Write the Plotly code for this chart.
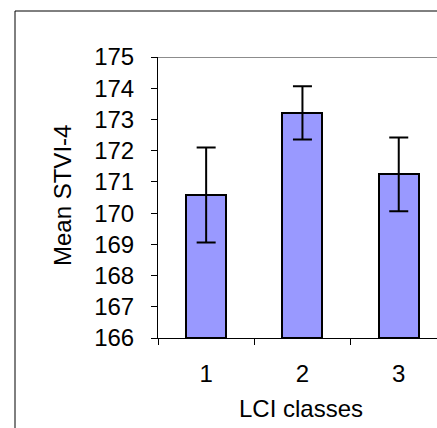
import plotly.graph_objects as go

# LCI class means of STVI-4 with their error bars
classes = ["1", "2", "3"]
mean_stvi = [170.58, 173.21, 171.24]
err_stvi = [1.52, 0.85, 1.18]
y_ticks = [166, 167, 168, 169, 170, 171, 172, 173, 174, 175]

FONT = "Liberation Sans, Arial, sans-serif"
FS = 24

fig = go.Figure()
fig.add_trace(go.Bar(
    x=classes,
    y=[m - 166 for m in mean_stvi],
    base=166,
    width=0.415,
    marker=dict(color="#9999FF", line=dict(color="black", width=2)),
    error_y=dict(type="data", array=err_stvi, visible=True,
                 color="black", thickness=2, width=9.5),
    showlegend=False,
))

W, H = 437, 428
ML, MT, MB = 158, 57, 90
pw, ph = W - ML, H - MT - MB

fig.update_layout(
    width=W, height=H,
    margin=dict(l=ML, r=0, t=MT, b=MB, pad=0),
    paper_bgcolor="white", plot_bgcolor="white",
    font=dict(family=FONT, size=FS, color="black"),
    bargap=0,
    xaxis=dict(
        type="category",
        range=[-0.5, -0.5 + pw / 96.3],
        showline=True, linecolor="black", linewidth=1,
        ticks="outside", tickson="boundaries", ticklen=6,
        tickcolor="black", tickwidth=1,
        ticklabelstandoff=14,
        showgrid=False, zeroline=False,
        tickfont=dict(family=FONT, size=FS, color="black"),
    ),
    yaxis=dict(
        range=[166, 175],
        tickvals=y_ticks,
        ticktext=[str(v) for v in y_ticks],
        showline=True, linecolor="black", linewidth=1,
        ticks="outside", ticklen=6, tickcolor="black", tickwidth=1,
        ticklabelstandoff=12,
        showgrid=False, zeroline=False,
        tickfont=dict(family=FONT, size=FS, color="black"),
    ),
)

# axis titles
fig.add_annotation(
    text="Mean STVI-4", textangle=-90,
    xref="paper", yref="paper",
    x=(62 - ML) / pw, y=1 - (195 - MT) / ph,
    xanchor="center", yanchor="middle", showarrow=False,
    font=dict(family=FONT, size=FS, color="black"),
)
fig.add_annotation(
    text="LCI classes",
    xref="paper", yref="paper",
    x=(301 - ML) / pw, y=1 - (408 - MT) / ph,
    xanchor="center", yanchor="middle", showarrow=False,
    font=dict(family=FONT, size=FS, color="black"),
)

# grey plot-area edge at the top of the value range
fig.add_shape(type="line", xref="paper", yref="y",
              x0=0, x1=1.05, y0=175, y1=175,
              line=dict(color="#8c8c8c", width=2))

# outer chart border (left and top edges)
bx = (15 - ML) / pw
by = 1 + (MT - 11) / ph
fig.add_shape(type="line", xref="paper", yref="paper",
              x0=bx, x1=1.2, y0=by, y1=by,
              line=dict(color="black", width=1))
fig.add_shape(type="line", xref="paper", yref="paper",
              x0=bx, x1=bx, y0=by, y1=-0.6,
              line=dict(color="black", width=1))

fig.write_html("out.html")
